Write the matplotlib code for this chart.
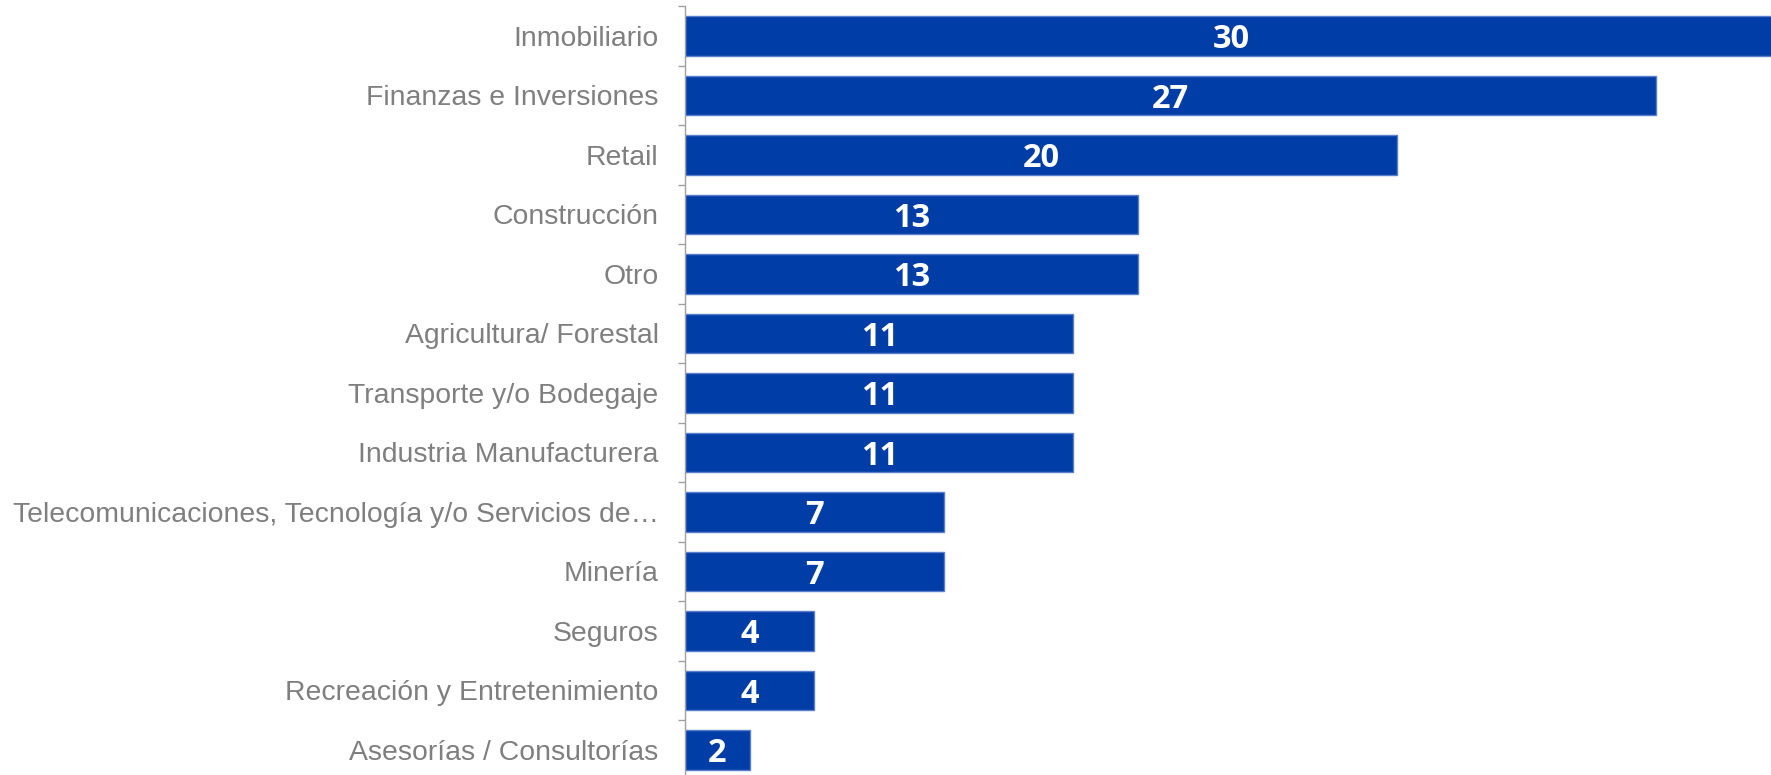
import numpy as np
import matplotlib.pyplot as plt

categorias = ['Inmobiliario', 'Finanzas e Inversiones', 'Retail', 'Construcción', 'Otro',
              'Agricultura/ Forestal', 'Transporte y/o Bodegaje', 'Industria Manufacturera',
              'Telecomunicaciones, Tecnología y/o Servicios de…', 'Minería', 'Seguros',
              'Recreación y Entretenimiento', 'Asesorías / Consultorías']
# largo de barras (etiquetas redondeadas)
valores = [30.4, 27.0, 19.8, 12.6, 12.6, 10.8, 10.8, 10.8, 7.2, 7.2, 3.6, 3.6, 1.8]

fig = plt.figure(figsize=(17.71, 7.75), dpi=100)
ax = fig.add_axes([0.3868, -0.006, 0.6132, 0.998])

y = np.arange(len(categorias))
ax.barh(y, valores, height=0.66, color='#003DA6', edgecolor='#5A7FCC', linewidth=1)

for yi, v in zip(y, valores):
    ax.text(v / 2, yi, '%d' % round(v), ha='center', va='center_baseline', color='white',
            fontsize=23.5, fontweight='bold', family='Open Sans')

ax.set_xlim(0, 30.2)
ax.set_ylim(len(categorias) - 0.5, -0.5)
ax.set_yticks(y)
ax.set_yticklabels(categorias, family='Liberation Sans', fontsize=20.4, color='#7F7F7F')
ax.set_yticks(np.arange(len(categorias) + 1) - 0.5, minor=True)
ax.tick_params(axis='y', which='major', length=0, pad=19)
ax.tick_params(axis='y', which='minor', length=5, width=1, color='#A0A0A0')
ax.set_xticks([])
for s in ['top', 'right', 'bottom']:
    ax.spines[s].set_visible(False)
ax.spines['left'].set_color('#A0A0A0')
ax.spines['left'].set_linewidth(1)

plt.savefig('out.png', dpi=100)
